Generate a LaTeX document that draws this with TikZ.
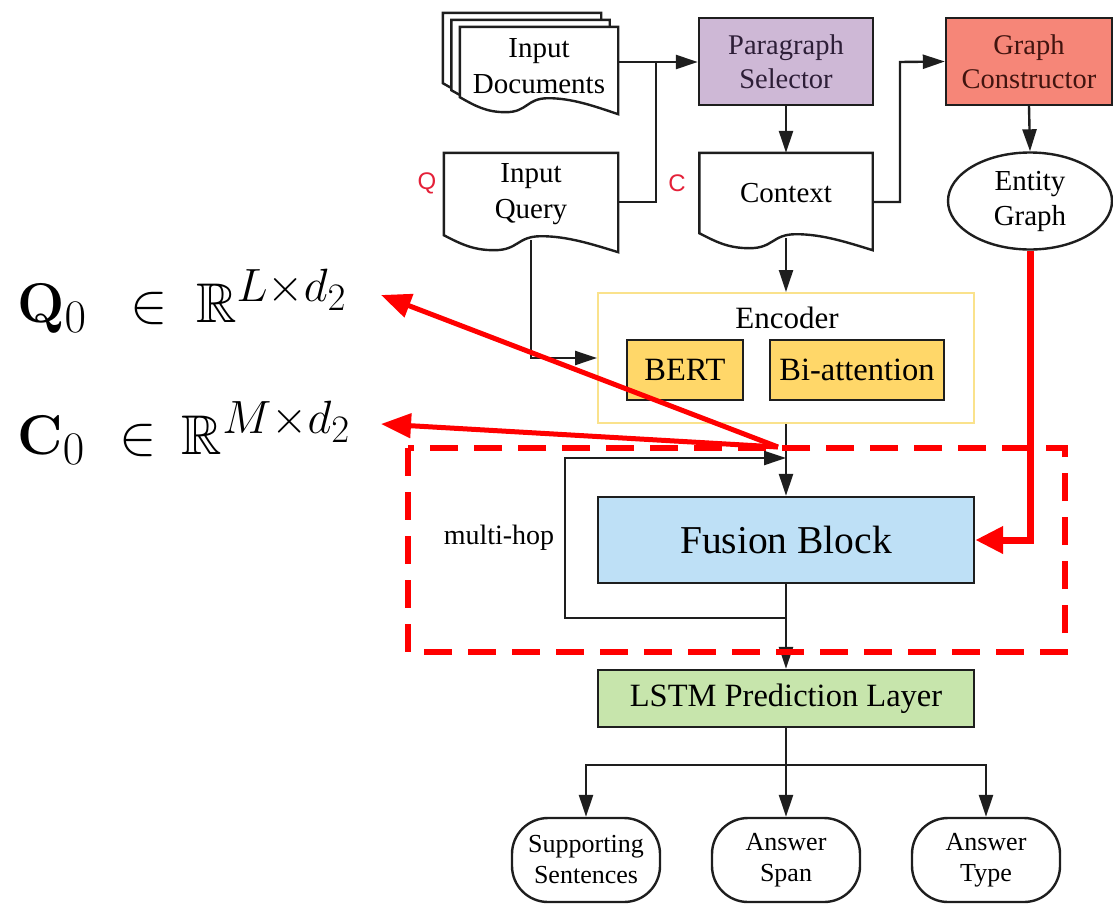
\documentclass[tikz,border=0pt]{standalone}
\usepackage{amssymb}
\usepackage[no-math]{fontspec}
\setmainfont{Liberation Serif}
\newfontfamily\labelsans{Liberation Sans}
\usetikzlibrary{arrows.meta,calc,shapes.geometric}

\pgfdeclarelayer{background}
\pgfsetlayers{background,main}

\definecolor{edgec}{RGB}{30,30,30}
\definecolor{selfill}{RGB}{206,184,214}
\definecolor{seltext}{RGB}{45,30,55}
\definecolor{gcfill}{RGB}{246,134,120}
\definecolor{gctext}{RGB}{65,20,15}
\definecolor{encedge}{RGB}{250,226,140}
\definecolor{encfill}{RGB}{255,215,105}
\definecolor{fusfill}{RGB}{190,224,246}
\definecolor{lstmfill}{RGB}{199,229,172}
\definecolor{hot}{RGB}{255,0,0}
\definecolor{tagred}{RGB}{228,32,56}

\newcommand\setfs[2]{\fontsize{#1}{#2}\selectfont}
% document outline: flat top, wavy bottom whose right corner hangs lower
% #1 node, #2 width, #3 how far the left corner sits above the node's bottom
\newcommand\docoutline[3]{%
  \draw[docline] (#1.north west) -- (#1.north east) -- ($(#1.south east)+(0,17-#3)$)
    .. controls +(-0.15*#2,-8) and +(0.15*#2,0) .. ($(#1.south west)+(0.56*#2,1-#3)$)
    .. controls +(-0.14*#2,0) and +(0.14*#2,0) .. ($(#1.south west)+(0.29*#2,15-#3)$)
    .. controls +(-0.12*#2,0) and +(0.1*#2,9) .. ($(#1.south west)+(0,-#3)$) -- cycle;}

\begin{document}
\begin{tikzpicture}[x=1pt,y=-1pt,
  box/.style={draw=edgec, line width=2.4pt, inner sep=0pt, align=center},
  docnode/.style={inner sep=0pt, align=center, font=\setfs{29}{36}},
  docline/.style={draw=edgec, fill=white, line width=2.4pt, line join=miter},
  wire/.style={draw=edgec, line width=2.4pt},
  arr/.style={wire, -{Triangle[length=22pt,width=14pt]}},
  outnode/.style={draw=edgec, line width=2.4pt, rounded corners=36pt,
    minimum width=148pt, minimum height=84pt, inner sep=0pt, align=center,
    font=\setfs{26}{31}},
  hotarr/.style={draw=hot, line width=5pt, -{Triangle[length=30pt,width=24pt]}},
  hotdash/.style={draw=hot, line width=6pt, dash pattern=on 28pt off 16pt},
  tag/.style={font=\labelsans\setfs{24}{28}, text=tagred, inner sep=0pt},
  formula/.style={anchor=base west, inner sep=0pt, font=\setfs{24.88}{28}, scale=2.25}]
\useasboundingbox (0,0) rectangle (1113,905);

% top row
\node[box, fill=selfill, text=seltext, minimum width=174pt, minimum height=87pt,
  font=\setfs{28.5}{34}] (psel) at (786,61.5) {Paragraph\\Selector};
\node[box, fill=gcfill, text=gctext, minimum width=166pt, minimum height=87pt,
  font=\setfs{28.5}{34}] (gcon) at (1029,61.5) {Graph\\Constructor};
\node[draw=edgec, line width=2.4pt, ellipse, minimum width=164pt, minimum height=97pt,
  inner sep=0pt, align=center, font=\setfs{29}{35}] (egraph) at (1030,201) {Entity\\Graph};

% documents
\node[docnode, minimum width=158pt, minimum height=78pt] (docsC) at (522,52) {};
\node[docnode, minimum width=158pt, minimum height=78pt] (docsB) at (530.5,59) {};
\node[docnode, minimum width=158pt, minimum height=78pt] (docs) at (539,66) {Input\\Documents};
\node[docnode, minimum width=174pt, minimum height=82pt] (query) at (531,194) {Input\\Query};
\node[docnode, minimum width=173pt, minimum height=80pt] (context) at (786,193) {Context};
\begin{pgfonlayer}{background}
  \docoutline{docsC}{158}{8}
  \docoutline{docsB}{158}{8}
  \docoutline{docs}{158}{8}
  \docoutline{query}{174}{0}
  \docoutline{context}{173}{0}
\end{pgfonlayer}

\node[tag] (qtag) at (427,183) {Q};
\node[tag] (ctag) at (677,183) {C};

% encoder
\node[draw=encedge, line width=2pt, minimum width=376pt, minimum height=130pt,
  inner sep=0pt] (encoder) at (786,358) {};
\node[font=\setfs{31}{34}, inner sep=0pt] (enctitle) at (787,318) {Encoder};
\node[box, fill=encfill, minimum width=116pt, minimum height=60pt,
  font=\setfs{32.5}{36}] (bert) at (685,370) {BERT};
\node[box, fill=encfill, minimum width=174pt, minimum height=60pt,
  font=\setfs{32.5}{36}] (biatt) at (857,370) {Bi-attention};

% fusion and prediction
\node[box, fill=fusfill, minimum width=376pt, minimum height=86pt,
  font=\setfs{39.5}{44}] (fusion) at (786,540) {Fusion Block};
\node[font=\setfs{28}{32}, inner sep=0pt] (mhop) at (499,538) {multi-hop};
\node[box, fill=lstmfill, minimum width=376pt, minimum height=57pt,
  font=\setfs{32.5}{36}] (lstm) at (786,698.5) {LSTM Prediction Layer};

\node[outnode] (sup) at (586,860) {Supporting\\Sentences};
\node[outnode] (span) at (786,860) {Answer\\Span};
\node[outnode] (typ) at (986,860) {Answer\\Type};

% formulas
\node[formula] (q0) at (17,322)
  {$\mathbf{Q}_0\mskip9mu\in\mskip4mu\mathbb{R}^{L\times d_2}$};
\node[formula] (c0) at (17,454)
  {$\mathbf{C}_0\mskip6mu\in\mskip3mu\mathbb{R}^{M\times d_2}$};

% black connectors
\coordinate (j1) at (656,62);
\coordinate (j2) at (900,62);
\draw[arr] (docs.east |- j1) -- (j1 -| psel.west);
\draw[wire] ([yshift=-8pt]query.east) -| (j1);
\draw[arr] (psel.south) -- (context.north);
\draw[arr] ([yshift=-9pt]context.east) -| (j2) -- (gcon.west);
\draw[arr] (gcon.south) -- (egraph.north);
\draw[arr] ([yshift=-5pt]context.south) -- (encoder.north);
\draw[arr] ([yshift=-5pt]query.south) |- (encoder.west);
\draw[arr] (encoder.south) -- (fusion.north);
\coordinate (lb) at (786,618);
\coordinate (lt) at (786,458);
\draw[arr] (lb) -- ++(-221,0) |- (lt);
\draw[arr] (fusion.south) -- (lstm.north);
\coordinate (br) at (786,765);
\draw[arr] (lstm.south) -- (span.north);
\draw[arr] (br) -| (sup.north);
\draw[arr] (br) -| (typ.north);

% highlighted region and annotations
\draw[hotdash] (408,448) rectangle (1065,652);
\draw[draw=hot, line width=7pt, -{Triangle[length=28pt,width=26pt]}] (egraph.south) |- (fusion.east);
\coordinate (split) at (778,447);
\coordinate (qtip) at (381,295);
\coordinate (ctip) at (381,424);
\draw[hotarr] (split) -- (qtip);
\draw[hotarr] (split) -- (ctip);
\end{tikzpicture}
\end{document}
